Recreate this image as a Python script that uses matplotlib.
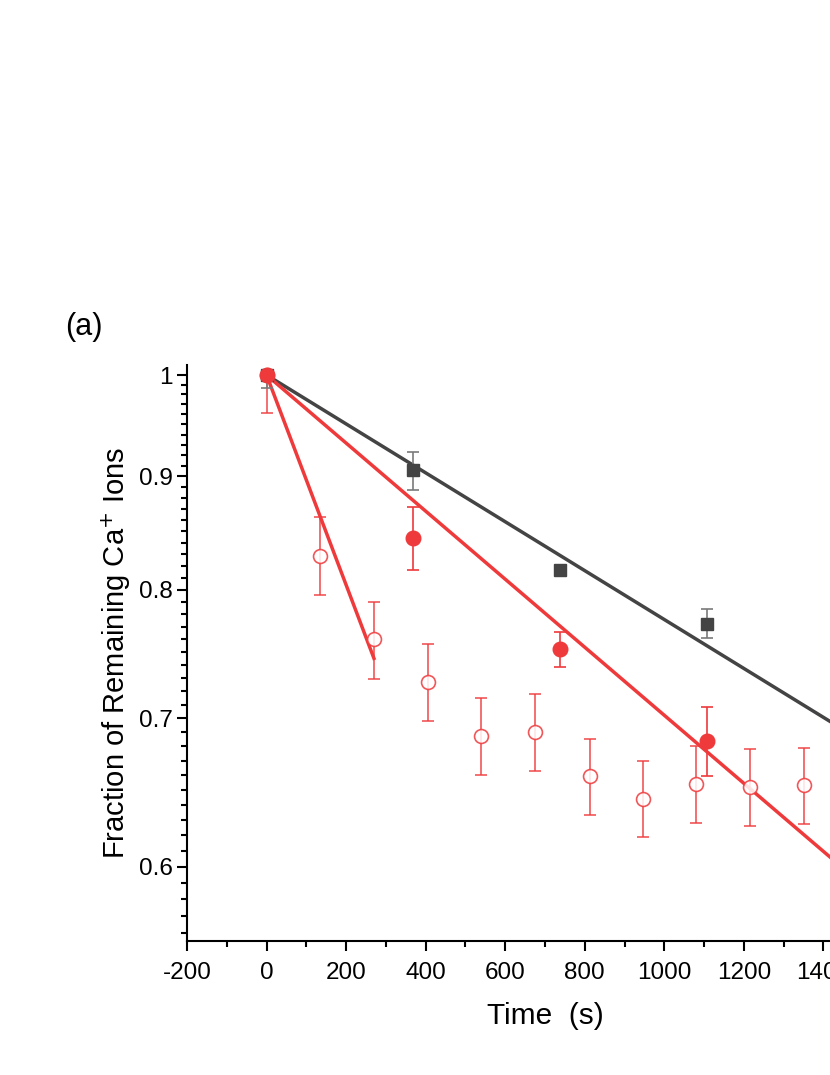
import numpy as np
import matplotlib.pyplot as plt
from matplotlib.ticker import FixedLocator, NullFormatter

plt.rcParams['font.family'] = ['Liberation Sans', 'DejaVu Sans']
plt.rcParams['axes.unicode_minus'] = False

# squares (dark)
t_sq = [0, 369, 737, 1107]
y_sq = [1.0, 0.906, 0.817, 0.772]
err_sq_lo = [0.013, 0.019, 0.003, 0.011]
err_sq_hi = [0.002, 0.017, 0.003, 0.012]

# filled red circles
t_fc = [0, 369, 737, 1107]
y_fc = [1.0, 0.844, 0.752, 0.684]
err_fc_lo = [0.002, 0.027, 0.014, 0.025]
err_fc_hi = [0.002, 0.028, 0.014, 0.024]

# open red circles
t_oc = [0, 135, 270, 407, 540, 676, 812, 947, 1080, 1216, 1350]
y_oc = [1.0, 0.829, 0.760, 0.727, 0.687, 0.690, 0.659, 0.644, 0.654, 0.652, 0.653]
err_oc_lo = [0.039, 0.033, 0.031, 0.029, 0.027, 0.027, 0.026, 0.025, 0.026, 0.026, 0.026]
err_oc_hi = [0.004, 0.034, 0.030, 0.029, 0.028, 0.028, 0.026, 0.026, 0.026, 0.026, 0.026]

# fit lines (endpoints)
fit_sq_t = [0, 1600]
fit_sq_y = [1.0, 0.666]
fit_fc_t = [0, 1600]
fit_fc_y = [1.0, 0.568]
fit_oc_t = [0, 270]
fit_oc_y = [1.0, 0.745]

red = '#ef3a3c'
dark = '#444444'

fig = plt.figure(figsize=(8.3, 10.75), dpi=100)
ax = fig.add_axes([0.2253, 0.1247, 0.8627, 0.5358])

ax.plot(fit_sq_t, fit_sq_y, color=dark, lw=2.5, zorder=2)
ax.plot(fit_fc_t, fit_fc_y, color=red, lw=2.5, zorder=2)
ax.plot(fit_oc_t, fit_oc_y, color=red, lw=2.5, zorder=2)

ax.errorbar(t_oc, y_oc, yerr=[err_oc_lo, err_oc_hi], fmt='o', mfc='white', mec=red,
            mew=1.2, ms=10, ecolor=red, elinewidth=1.2, capsize=4.5, capthick=1.2,
            alpha=0.85, zorder=3)
ax.errorbar(t_sq, y_sq, yerr=[err_sq_lo, err_sq_hi], fmt='s', color=dark, ms=9,
            ecolor='#7a7a7a', elinewidth=1.2, capsize=4.5, capthick=1.2, zorder=4)
ax.errorbar(t_fc, y_fc, yerr=[err_fc_lo, err_fc_hi], fmt='o', color=red, ms=10.5,
            ecolor=red, elinewidth=1.2, capsize=4.5, capthick=1.2, zorder=5)

ax.set_yscale('log')
ax.set_xlim(-200, 1600)
ax.set_ylim(0.5555, 1.0105)

ax.yaxis.set_major_locator(FixedLocator([0.6, 0.7, 0.8, 0.9, 1.0]))
ax.yaxis.set_minor_locator(FixedLocator(np.arange(0.56, 1.0, 0.01)))
ax.yaxis.set_minor_formatter(NullFormatter())
ax.set_yticklabels(['0.6', '0.7', '0.8', '0.9', '1'])
ax.xaxis.set_major_locator(FixedLocator(np.arange(-200, 1601, 200)))
ax.xaxis.set_minor_locator(FixedLocator(np.arange(-100, 1600, 200)))

ax.spines['top'].set_visible(False)
ax.spines['right'].set_visible(False)
ax.spines['left'].set_linewidth(1.5)
ax.spines['bottom'].set_linewidth(1.5)
ax.tick_params(which='major', length=7, width=1.5, labelsize=17.5, direction='out')
ax.tick_params(which='minor', length=4, width=1.5, direction='out')
ax.tick_params(axis='x', which='major', pad=8)

ax.set_xlabel('Time  (s)', fontsize=21.5, labelpad=13)
ax.set_ylabel('Fraction of Remaining Ca$^{+}$ Ions', fontsize=21, labelpad=4)

fig.text(0.078, 0.696, '(a)', fontsize=22, va='center', ha='left')

fig.savefig('out.png', dpi=100)
